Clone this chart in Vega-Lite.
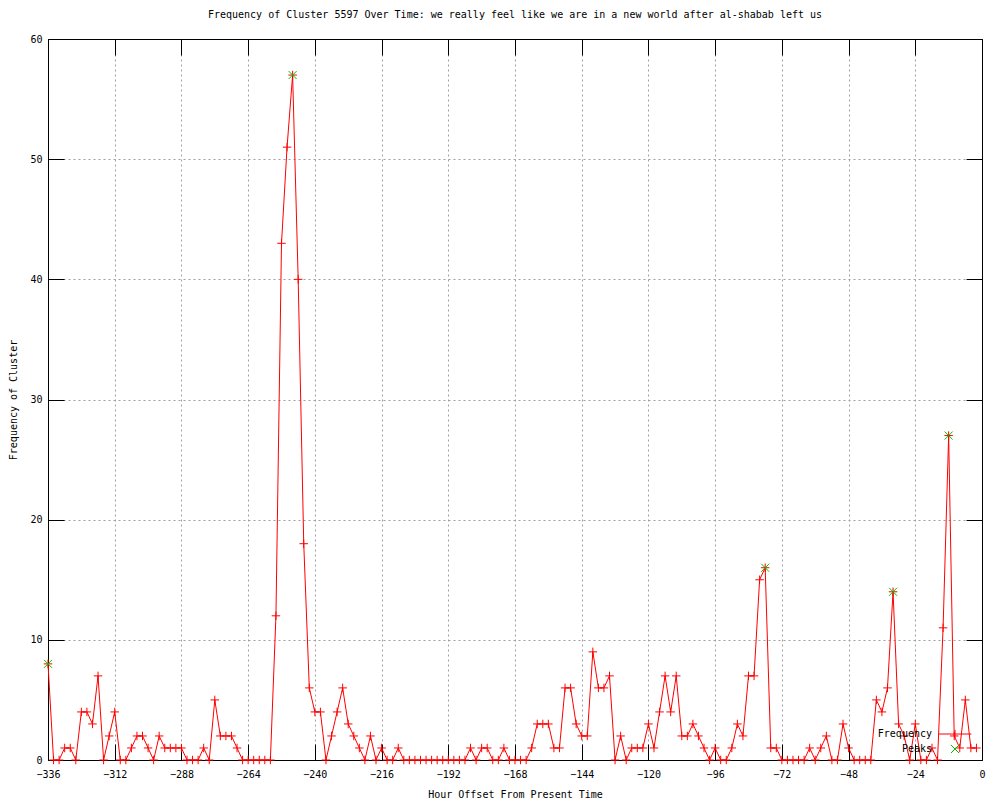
{
  "$schema": "https://vega.github.io/schema/vega-lite/v6.json",
  "width": 934,
  "height": 721,
  "autosize": {"type": "none"},
  "padding": {"left": 48, "top": 39, "right": 18, "bottom": 40},
  "background": "white",
  "title": {
    "text": "Frequency of Cluster 5597 Over Time: we really feel like we are in a new world after al-shabab left us",
    "font": "DejaVu Sans Mono",
    "fontSize": 10,
    "fontWeight": "normal",
    "color": "black",
    "anchor": "middle",
    "offset": 14
  },
  "config": {
    "view": {"stroke": null},
    "axis": {
      "labelFont": "DejaVu Sans Mono",
      "labelFontSize": 10,
      "labelColor": "black",
      "titleFont": "DejaVu Sans Mono",
      "titleFontSize": 10,
      "titleFontWeight": "normal",
      "titleColor": "black",
      "domainColor": "black",
      "domainWidth": 1,
      "tickColor": "black",
      "tickWidth": 1,
      "ticks": true,
      "gridColor": "#a0a0a0",
      "gridDash": [2, 3],
      "gridOpacity": 1,
      "labelFlush": false,
      "labelOverlap": false,
      "labelBound": false
    }
  },
  "datasets": {
    "freq": [
      {"hour": -336, "count": 8}, {"hour": -334, "count": 0}, {"hour": -332, "count": 0}, {"hour": -330, "count": 1},
      {"hour": -328, "count": 1}, {"hour": -326, "count": 0}, {"hour": -324, "count": 4}, {"hour": -322, "count": 4},
      {"hour": -320, "count": 3}, {"hour": -318, "count": 7}, {"hour": -316, "count": 0}, {"hour": -314, "count": 2},
      {"hour": -312, "count": 4}, {"hour": -310, "count": 0}, {"hour": -308, "count": 0}, {"hour": -306, "count": 1},
      {"hour": -304, "count": 2}, {"hour": -302, "count": 2}, {"hour": -300, "count": 1}, {"hour": -298, "count": 0},
      {"hour": -296, "count": 2}, {"hour": -294, "count": 1}, {"hour": -292, "count": 1}, {"hour": -290, "count": 1},
      {"hour": -288, "count": 1}, {"hour": -286, "count": 0}, {"hour": -284, "count": 0}, {"hour": -282, "count": 0},
      {"hour": -280, "count": 1}, {"hour": -278, "count": 0}, {"hour": -276, "count": 5}, {"hour": -274, "count": 2},
      {"hour": -272, "count": 2}, {"hour": -270, "count": 2}, {"hour": -268, "count": 1}, {"hour": -266, "count": 0},
      {"hour": -264, "count": 0}, {"hour": -262, "count": 0}, {"hour": -260, "count": 0}, {"hour": -258, "count": 0},
      {"hour": -256, "count": 0}, {"hour": -254, "count": 12}, {"hour": -252, "count": 43}, {"hour": -250, "count": 51},
      {"hour": -248, "count": 57}, {"hour": -246, "count": 40}, {"hour": -244, "count": 18}, {"hour": -242, "count": 6},
      {"hour": -240, "count": 4}, {"hour": -238, "count": 4}, {"hour": -236, "count": 0}, {"hour": -234, "count": 2},
      {"hour": -232, "count": 4}, {"hour": -230, "count": 6}, {"hour": -228, "count": 3}, {"hour": -226, "count": 2},
      {"hour": -224, "count": 1}, {"hour": -222, "count": 0}, {"hour": -220, "count": 2}, {"hour": -218, "count": 0},
      {"hour": -216, "count": 1}, {"hour": -214, "count": 0}, {"hour": -212, "count": 0}, {"hour": -210, "count": 1},
      {"hour": -208, "count": 0}, {"hour": -206, "count": 0}, {"hour": -204, "count": 0}, {"hour": -202, "count": 0},
      {"hour": -200, "count": 0}, {"hour": -198, "count": 0}, {"hour": -196, "count": 0}, {"hour": -194, "count": 0},
      {"hour": -192, "count": 0}, {"hour": -190, "count": 0}, {"hour": -188, "count": 0}, {"hour": -186, "count": 0},
      {"hour": -184, "count": 1}, {"hour": -182, "count": 0}, {"hour": -180, "count": 1}, {"hour": -178, "count": 1},
      {"hour": -176, "count": 0}, {"hour": -174, "count": 0}, {"hour": -172, "count": 1}, {"hour": -170, "count": 0},
      {"hour": -168, "count": 0}, {"hour": -166, "count": 0}, {"hour": -164, "count": 0}, {"hour": -162, "count": 1},
      {"hour": -160, "count": 3}, {"hour": -158, "count": 3}, {"hour": -156, "count": 3}, {"hour": -154, "count": 1},
      {"hour": -152, "count": 1}, {"hour": -150, "count": 6}, {"hour": -148, "count": 6}, {"hour": -146, "count": 3},
      {"hour": -144, "count": 2}, {"hour": -142, "count": 2}, {"hour": -140, "count": 9}, {"hour": -138, "count": 6},
      {"hour": -136, "count": 6}, {"hour": -134, "count": 7}, {"hour": -132, "count": 0}, {"hour": -130, "count": 2},
      {"hour": -128, "count": 0}, {"hour": -126, "count": 1}, {"hour": -124, "count": 1}, {"hour": -122, "count": 1},
      {"hour": -120, "count": 3}, {"hour": -118, "count": 1}, {"hour": -116, "count": 4}, {"hour": -114, "count": 7},
      {"hour": -112, "count": 4}, {"hour": -110, "count": 7}, {"hour": -108, "count": 2}, {"hour": -106, "count": 2},
      {"hour": -104, "count": 3}, {"hour": -102, "count": 2}, {"hour": -100, "count": 1}, {"hour": -98, "count": 0},
      {"hour": -96, "count": 1}, {"hour": -94, "count": 0}, {"hour": -92, "count": 0}, {"hour": -90, "count": 1},
      {"hour": -88, "count": 3}, {"hour": -86, "count": 2}, {"hour": -84, "count": 7}, {"hour": -82, "count": 7},
      {"hour": -80, "count": 15}, {"hour": -78, "count": 16}, {"hour": -76, "count": 1}, {"hour": -74, "count": 1},
      {"hour": -72, "count": 0}, {"hour": -70, "count": 0}, {"hour": -68, "count": 0}, {"hour": -66, "count": 0},
      {"hour": -64, "count": 0}, {"hour": -62, "count": 1}, {"hour": -60, "count": 0}, {"hour": -58, "count": 1},
      {"hour": -56, "count": 2}, {"hour": -54, "count": 0}, {"hour": -52, "count": 0}, {"hour": -50, "count": 3},
      {"hour": -48, "count": 1}, {"hour": -46, "count": 0}, {"hour": -44, "count": 0}, {"hour": -42, "count": 0},
      {"hour": -40, "count": 0}, {"hour": -38, "count": 5}, {"hour": -36, "count": 4}, {"hour": -34, "count": 6},
      {"hour": -32, "count": 14}, {"hour": -30, "count": 3}, {"hour": -28, "count": 2}, {"hour": -26, "count": 0},
      {"hour": -24, "count": 3}, {"hour": -22, "count": 0}, {"hour": -20, "count": 0}, {"hour": -18, "count": 1},
      {"hour": -16, "count": 0}, {"hour": -14, "count": 11}, {"hour": -12, "count": 27}, {"hour": -10, "count": 2},
      {"hour": -8, "count": 1}, {"hour": -6, "count": 5}, {"hour": -4, "count": 1}, {"hour": -2, "count": 1}
    ],
    "peaks": [
      {"hour": -336, "count": 8},
      {"hour": -248, "count": 57},
      {"hour": -78, "count": 16},
      {"hour": -32, "count": 14},
      {"hour": -12, "count": 27}
    ]
  },
  "layer": [
    {
      "data": {"name": "freq"},
      "mark": {"type": "line", "strokeWidth": 1},
      "encoding": {
        "x": {
          "field": "hour", "type": "quantitative",
          "scale": {"domain": [-336, 0], "nice": false, "zero": false},
          "axis": {
            "values": [-336, -312, -288, -264, -240, -216, -192, -168, -144, -120, -96, -72, -48, -24, 0],
            "title": "Hour Offset From Present Time",
            "ticks": true,
            "tickSize": -16,
            "labelPadding": 25,
            "grid": true,
            "titleY": 37,
            "titleBaseline": "alphabetic"
          }
        },
        "y": {
          "field": "count", "type": "quantitative",
          "scale": {"domain": [0, 60], "nice": false},
          "axis": {
            "orient": "left",
            "values": [0, 10, 20, 30, 40, 50, 60],
            "title": "Frequency of Cluster",
            "ticks": true,
            "tickColor": "black",
            "tickSize": -16,
            "labelPadding": 22,
            "grid": true,
            "titleX": -32,
            "titleBaseline": "alphabetic"
          }
        },
        "color": {
          "datum": "Frequency", "type": "nominal",
          "scale": {"domain": ["Frequency", "Peaks"], "range": ["#ff0000", "#00c000"]},
          "legend": {
            "orient": "none",
            "legendX": 902,
            "legendY": 690,
            "title": null,
            "padding": 0,
            "labelFont": "DejaVu Sans Mono",
            "labelFontSize": 10,
            "labelColor": "black",
            "labelAlign": "right",
            "labelOffset": -28,
            "symbolSize": 67,
            "symbolStrokeWidth": 1,
            "rowPadding": 1,
            "encode": {
              "symbols": {
                "update": {
                  "shape": {"signal": "datum.value === 'Frequency' ? 'M-4,0H4M0,-1V1' : 'M-1,-1L1,1M-1,1L1,-1'"},
                  "fill": {"value": "transparent"},
                  "stroke": {"signal": "datum.value === 'Frequency' ? '#ff0000' : '#00c000'"},
                  "strokeWidth": {"value": 1},
                  "opacity": {"value": 1}
                }
              }
            }
          }
        }
      }
    },
    {
      "data": {"name": "freq"},
      "mark": {"type": "point", "shape": "M-1,0H1M0,-1V1", "size": 72, "filled": false, "opacity": 1, "strokeWidth": 1},
      "encoding": {
        "x": {"field": "hour", "type": "quantitative", "axis": null},
        "y": {"field": "count", "type": "quantitative", "axis": null},
        "color": {"datum": "Frequency", "type": "nominal"}
      }
    },
    {
      "data": {"name": "peaks"},
      "mark": {"type": "point", "shape": "M-1,-1L1,1M-1,1L1,-1", "size": 64, "filled": false, "opacity": 1, "strokeWidth": 1},
      "encoding": {
        "x": {
          "field": "hour", "type": "quantitative",
          "axis": {
            "orient": "top",
            "values": [-336, -312, -288, -264, -240, -216, -192, -168, -144, -120, -96, -72, -48, -24, 0],
            "labels": false, "domain": true, "grid": false, "title": null, "ticks": true, "tickSize": -16
          }
        },
        "y": {
          "field": "count", "type": "quantitative",
          "axis": {
            "orient": "right",
            "values": [0, 10, 20, 30, 40, 50, 60],
            "labels": false, "domain": true, "grid": false, "title": null, "ticks": true, "tickSize": -16
          }
        },
        "color": {"datum": "Peaks", "type": "nominal"}
      }
    }
  ],
  "resolve": {"axis": {"x": "independent", "y": "independent"}}
}
